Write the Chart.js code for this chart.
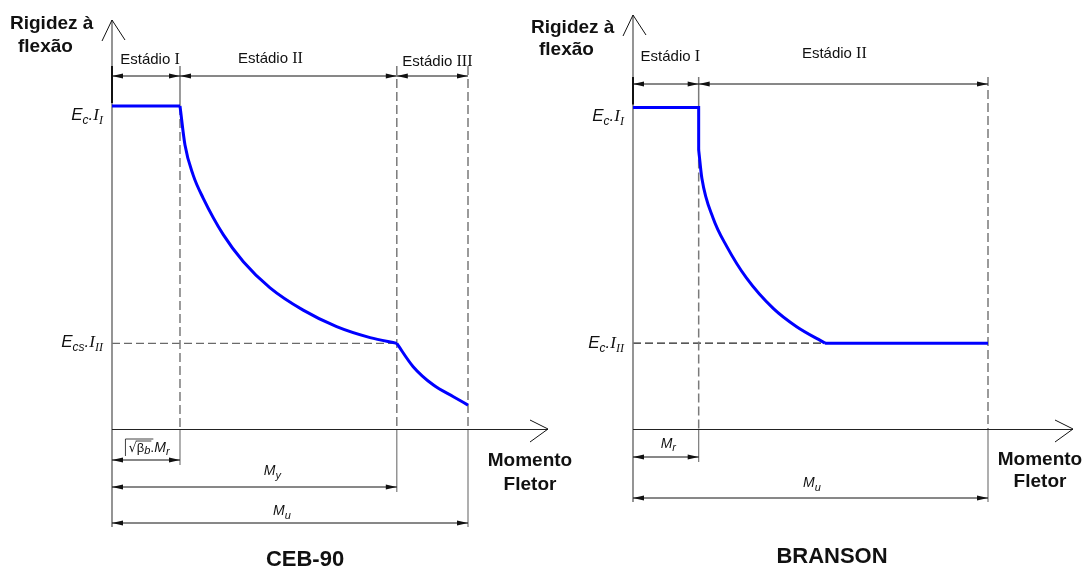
<!DOCTYPE html>
<html>
<head>
<meta charset="utf-8">
<script src="https://cdn.jsdelivr.net/npm/chart.js"></script>
<style>
  html, body { margin: 0; padding: 0; background: #fff; }
  #quadro { position: relative; width: 1089px; height: 569px; overflow: hidden; }
  #quadro canvas { position: absolute; top: 0; }
</style>
</head>
<body>
<div id="quadro">
  <canvas id="grafico_ceb" width="600" height="569" style="left:0px"></canvas>
  <canvas id="grafico_branson" width="589" height="569" style="left:500px"></canvas>
</div>
<script>
// VALORES (MOMENTO E RIGIDEZ EM UNIDADES RELATIVAS, Mu = 10 E Ec.II = 10)
const ceb_momento = [0, 1.91, 2.05, 2.28, 2.56, 3.13, 3.69, 4.44, 5.37, 6.31, 7.25, 8.0, 8.46, 9.03, 9.59, 10];
const ceb_rigidez = [10, 10, 8.79, 7.86, 7.15, 6.01, 5.18, 4.37, 3.68, 3.17, 2.83, 2.65, 1.93, 1.36, 1.0, 0.74];
const ceb_limites = [0, 1.91, 8.0, 10];   // origem, raiz(beta).Mr, My, Mu
const ceb_niveis = [10, 2.65];            // Ec.II , Ecs.III
const ceb_estadios = ['I', 'II', 'III'];

const branson_momento = [0, 1.85, 1.85, 1.94, 2.26, 2.64, 3.20, 3.95, 4.61, 5.41, 10];
const branson_rigidez = [10, 10, 8.68, 7.80, 6.55, 5.68, 4.69, 3.75, 3.18, 2.67, 2.67];
const branson_limites = [0, 1.85, 10];    // origem, Mr, Mu
const branson_niveis = [10, 2.67];        // Ec.II , Ec.III
const branson_estadios = ['I', 'II'];

const AZUL = '#0000ff';
const CINZA = '#7a7a7a';
const PRETO = '#111';

const F_EST = '15px "Liberation Sans"';
const F_ROM = '16px "Liberation Serif"';
const F_IT = 'italic 17px "Liberation Sans"';
const F_IT_SUB = 'italic 12px "Liberation Sans"';
const F_ROM_IT = 'italic 17px "Liberation Serif"';
const F_ROM_SUB = 'italic 12px "Liberation Serif"';
const F_COTA = 'italic 14px "Liberation Sans"';
const F_COTA_SUB = 'italic 11px "Liberation Sans"';
const F_NEGRITO = 'bold 19px "Liberation Sans"';
const F_TITULO = 'bold 22px "Liberation Sans"';

function trecho(xs, ys, i, j) {
    const pts = [];
    for (let k = i; k <= j; k++) pts.push({ x: xs[k], y: ys[k] });
    return pts;
}

function linha(ctx, x1, y1, x2, y2, cor, larg, tracejado) {
    ctx.beginPath();
    ctx.strokeStyle = cor;
    ctx.lineWidth = larg;
    ctx.setLineDash(tracejado || []);
    ctx.moveTo(x1, y1);
    ctx.lineTo(x2, y2);
    ctx.stroke();
    ctx.setLineDash([]);
}

function ponta(ctx, x, y, dir) {
    // seta cheia da cota, dir = -1 aponta para esquerda
    ctx.beginPath();
    ctx.fillStyle = PRETO;
    ctx.moveTo(x, y);
    ctx.lineTo(x - dir * 11, y - 2.5);
    ctx.lineTo(x - dir * 11, y + 2.5);
    ctx.closePath();
    ctx.fill();
}

function cota(ctx, xa, xb, y) {
    linha(ctx, xa, y, xb, y, PRETO, 1);
    ponta(ctx, xa, y, -1);
    ponta(ctx, xb, y, 1);
}

// texto com partes de fontes diferentes: [texto, fonte, deslocamento vertical]
function textoRico(ctx, partes, x, y, alinhamento) {
    let largura = 0;
    partes.forEach(p => { ctx.font = p[1]; largura += ctx.measureText(p[0]).width; });
    let cx = x;
    if (alinhamento === 'center') cx = x - largura / 2;
    if (alinhamento === 'right') cx = x - largura;
    const pos = [];
    ctx.fillStyle = PRETO;
    ctx.textAlign = 'left';
    ctx.textBaseline = 'alphabetic';
    partes.forEach(p => {
        ctx.font = p[1];
        const w = ctx.measureText(p[0]).width;
        ctx.fillText(p[0], cx, y + (p[2] || 0));
        pos.push([cx, cx + w]);
        cx += w;
    });
    return pos;
}

function rotuloCota(nome) {
    if (nome === 'raizMr') return [['\u221A', '13px "DejaVu Sans"'], ['\u03B2', '13px "Liberation Sans"'], ['b', F_COTA_SUB, 2], ['.', '14px "Liberation Sans"'], ['M', F_COTA], ['r', F_COTA_SUB, 3]];
    if (nome === 'My') return [['M', F_COTA], ['y', F_COTA_SUB, 4]];
    if (nome === 'Mu') return [['M', F_COTA], ['u', F_COTA_SUB, 4]];
    return [['M', F_COTA], ['r', F_COTA_SUB, 3]];
}

function desenharAnotacoes(chart, a) {
    const ctx = chart.ctx;
    const sx = chart.scales.x, sy = chart.scales.y;
    const x0 = sx.getPixelForValue(0), y0 = sy.getPixelForValue(0);
    const lim = a.limites.map(v => sx.getPixelForValue(v));
    const yEc = sy.getPixelForValue(a.niveis[0]);
    const yII = sy.getPixelForValue(a.niveis[1]);
    ctx.save();

    // linha tracejada do nivel estadio II
    linha(ctx, x0, yII, lim[a.tracejado_ate], yII, a.cor_tracejado, 1.3, [8, 4]);

    // verticais nos limites dos estadios
    for (let i = 1; i < lim.length; i++) {
        let ini = a.topo_verticais;
        if (i === 1) {
            linha(ctx, lim[i], ini, lim[i], yEc, CINZA, 1.5);
            ini = yEc;
        }
        linha(ctx, lim[i], ini, lim[i], y0, CINZA, 1.5, [9, 4]);
        linha(ctx, lim[i], y0, lim[i], a.fim_ext[i], CINZA, 1.2);
    }

    // eixo y com seta aberta
    linha(ctx, x0, a.seta_y, x0, a.fim_ext[0], CINZA, 1.6);
    linha(ctx, x0, a.topo_verticais, x0, yEc - 3, PRETO, 2);
    linha(ctx, x0, a.seta_y, x0 - 10, a.seta_y + 21, PRETO, 1);
    linha(ctx, x0, a.seta_y, x0 + 13, a.seta_y + 20, PRETO, 1);

    // eixo x com seta aberta
    linha(ctx, x0, y0 + 0.5, a.seta_x, y0 + 0.5, '#222', 1);
    linha(ctx, a.seta_x, y0, a.seta_x - 18, y0 - 9, PRETO, 1);
    linha(ctx, a.seta_x, y0, a.seta_x - 18, y0 + 13, PRETO, 1);

    // cotas dos estadios
    for (let i = 0; i < a.estadios.length; i++) {
        cota(ctx, lim[i], lim[i + 1], a.linha_estadios);
        const r = a.rot_estadios[i];
        textoRico(ctx, [['Estádio ', F_EST], [a.estadios[i], F_ROM]], (lim[i] + lim[i + 1]) / 2 + r.dx, r.y, 'center');
    }

    // cotas de momento abaixo do eixo
    a.cotas.forEach(c => {
        cota(ctx, lim[0], lim[c.ate], c.y);
        const pos = textoRico(ctx, rotuloCota(c.rot), (lim[0] + lim[c.ate]) / 2 + c.dx, c.ty, 'center');
        if (c.rot === 'raizMr') {
            linha(ctx, pos[1][0] - 1, c.ty - 11, pos[2][1] + 1, c.ty - 11, PRETO, 0.8);
            linha(ctx, pos[0][0] - 3, c.ty - 13, pos[0][0] - 3, c.ty + 4, PRETO, 0.8);
            linha(ctx, pos[0][0] - 3, c.ty - 13, pos[2][1] + 3, c.ty - 13, PRETO, 0.8);
        }
    });

    // rotulos de rigidez
    textoRico(ctx, a.rot_ec, x0 - 9, a.y_rot_ec, 'right');
    textoRico(ctx, a.rot_ec2, x0 - 9, a.y_rot_ec2, 'right');

    // titulos dos eixos
    textoRico(ctx, [['Rigidez à', F_NEGRITO]], a.rigidez[0], a.rigidez[1], 'left');
    textoRico(ctx, [['flexão', F_NEGRITO]], a.rigidez[2], a.rigidez[3], 'left');
    textoRico(ctx, [['Momento', F_NEGRITO]], a.momento[0], a.momento[1], 'center');
    textoRico(ctx, [['Fletor', F_NEGRITO]], a.momento[0], a.momento[2], 'center');
    textoRico(ctx, [[a.titulo, F_TITULO]], a.pos_titulo[0], a.pos_titulo[1], 'center');

    ctx.restore();
}

const plugin_anotacoes = {
    id: 'anotacoes',
    beforeDatasetsDraw(chart, args, opts) {
        desenharAnotacoes(chart, opts);
    }
};

function faixa(origem_px, unidade, tamanho, invertido) {
    if (invertido) return { min: -(tamanho - origem_px) / unidade, max: origem_px / unidade };
    return { min: -origem_px / unidade, max: (tamanho - origem_px) / unidade };
}

function serie(dados, suave) {
    return {
        data: dados,
        showLine: true,
        borderColor: AZUL,
        borderWidth: 3,
        pointRadius: 0,
        cubicInterpolationMode: suave ? 'monotone' : 'default',
        tension: 0,
        borderCapStyle: 'butt',
        borderJoinStyle: 'miter'
    };
}

function criarGrafico(id, datasets, escalaX, escalaY, anot) {
    return new Chart(document.getElementById(id), {
        type: 'scatter',
        data: { datasets: datasets },
        options: {
            responsive: false,
            animation: false,
            devicePixelRatio: 1,
            layout: { padding: 0 },
            scales: {
                x: { type: 'linear', display: false, min: escalaX.min, max: escalaX.max },
                y: { type: 'linear', display: false, min: escalaY.min, max: escalaY.max }
            },
            plugins: {
                legend: { display: false },
                tooltip: { enabled: false },
                anotacoes: anot
            }
        },
        plugins: [plugin_anotacoes]
    });
}

/* GRAFICO CEB-90 */
const grafico_ceb = criarGrafico('grafico_ceb', [
    serie(trecho(ceb_momento, ceb_rigidez, 0, 1), false),
    serie(trecho(ceb_momento, ceb_rigidez, 1, 11), true),
    serie(trecho(ceb_momento, ceb_rigidez, 11, 15), true)
], faixa(112, 35.6, 600, false), faixa(429, 32.3, 569, true), {
    limites: ceb_limites,
    niveis: ceb_niveis,
    estadios: ceb_estadios,
    tracejado_ate: 2,
    cor_tracejado: '#6a6a6a',
    seta_y: 20,
    seta_x: 548,
    linha_estadios: 76,
    topo_verticais: 66,
    rot_estadios: [{ dx: 4, y: 64 }, { dx: -18, y: 63 }, { dx: 5, y: 66 }],
    cotas: [
        { ate: 1, y: 460, rot: 'raizMr', dx: 3, ty: 452 },
        { ate: 2, y: 487, rot: 'My', dx: 18, ty: 475 },
        { ate: 3, y: 523, rot: 'Mu', dx: -8, ty: 515 }
    ],
    fim_ext: [527, 465, 492, 527],
    rot_ec: [['E', F_IT], ['c', F_IT_SUB, 4], ['.', F_IT], ['I', F_ROM_IT], ['I', F_ROM_SUB, 4]],
    y_rot_ec: 120,
    rot_ec2: [['E', F_IT], ['cs', F_IT_SUB, 4], ['.', F_IT], ['I', F_ROM_IT], ['II', F_ROM_SUB, 4]],
    y_rot_ec2: 347,
    rigidez: [10, 29, 18, 52],
    momento: [530, 466, 490],
    titulo: 'CEB-90',
    pos_titulo: [305, 566]
});

/* GRAFICO BRANSON */
const grafico_branson = criarGrafico('grafico_branson', [
    serie(trecho(branson_momento, branson_rigidez, 0, 2), false),
    serie(trecho(branson_momento, branson_rigidez, 2, 9), true),
    serie(trecho(branson_momento, branson_rigidez, 9, 10), false)
], faixa(133, 35.5, 589, false), faixa(429, 32.15, 569, true), {
    limites: branson_limites,
    niveis: branson_niveis,
    estadios: branson_estadios,
    tracejado_ate: 2,
    cor_tracejado: '#222',
    seta_y: 15,
    seta_x: 573,
    linha_estadios: 84,
    topo_verticais: 77,
    rot_estadios: [{ dx: 4.5, y: 61 }, { dx: -9, y: 58 }],
    cotas: [
        { ate: 1, y: 457, rot: 'Mr', dx: 2.5, ty: 448 },
        { ate: 2, y: 498, rot: 'Mu', dx: 1.5, ty: 487 }
    ],
    fim_ext: [502, 462, 502],
    rot_ec: [['E', F_IT], ['c', F_IT_SUB, 4], ['.', F_IT], ['I', F_ROM_IT], ['I', F_ROM_SUB, 4]],
    y_rot_ec: 121,
    rot_ec2: [['E', F_IT], ['c', F_IT_SUB, 4], ['.', F_IT], ['I', F_ROM_IT], ['II', F_ROM_SUB, 4]],
    y_rot_ec2: 348,
    rigidez: [31, 33, 39, 55],
    momento: [540, 465, 487],
    titulo: 'BRANSON',
    pos_titulo: [332, 563]
});
</script>
</body>
</html>
